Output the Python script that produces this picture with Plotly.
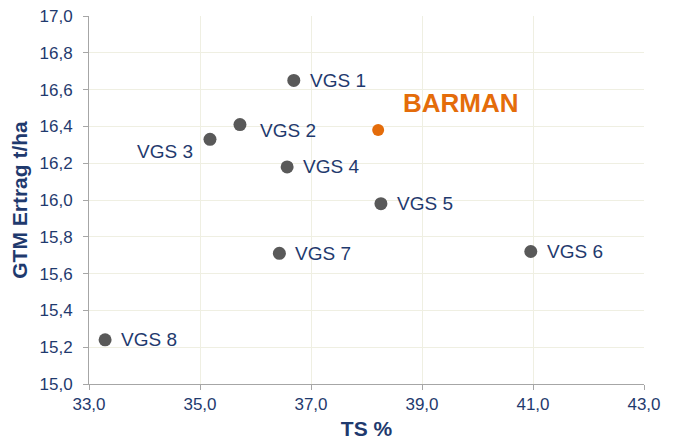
import plotly.graph_objects as go

names = ["VGS 1", "VGS 2", "VGS 3", "VGS 4", "VGS 5", "VGS 6", "VGS 7", "VGS 8"]
ts = [36.69, 35.72, 35.18, 36.57, 38.26, 40.96, 36.43, 33.29]
yield_t = [16.65, 16.41, 16.33, 16.18, 15.98, 15.72, 15.71, 15.24]

barman_name = "BARMAN"
barman_ts = [38.21]
barman_yield = [16.38]

x_ticks = [33, 35, 37, 39, 41, 43]
y_ticks = [15.0, 15.2, 15.4, 15.6, 15.8, 16.0, 16.2, 16.4, 16.6, 16.8, 17.0]

navy = "#1F3A6E"
font = "Liberation Sans, Arial, sans-serif"

fig = go.Figure()
fig.add_trace(go.Scatter(x=ts, y=yield_t, mode="markers",
                         marker=dict(size=13, color="#595959"),
                         hoverinfo="skip", showlegend=False))
fig.add_trace(go.Scatter(x=barman_ts, y=barman_yield, mode="markers",
                         marker=dict(size=12, color="#E46C0A"),
                         hoverinfo="skip", showlegend=False))

# label offsets (pixels)
offsets = {
    "VGS 1": (14, 0, "left"),
    "VGS 2": (18, -6, "left"),
    "VGS 3": (-15, -12, "right"),
    "VGS 4": (14, 0, "left"),
    "VGS 5": (14, 0, "left"),
    "VGS 6": (14, 0, "left"),
    "VGS 7": (14, 0, "left"),
    "VGS 8": (14, 0, "left"),
}
for n, xv, yv in zip(names, ts, yield_t):
    dx, dy, anc = offsets[n]
    fig.add_annotation(x=xv, y=yv, text=n, showarrow=False, xanchor=anc,
                       xshift=dx, yshift=dy,
                       font=dict(family=font, size=19, color=navy))
fig.add_annotation(x=barman_ts[0], y=barman_yield[0], text="<b>" + barman_name + "</b>",
                   showarrow=False, xanchor="left", xshift=23, yshift=27,
                   font=dict(family=font, size=26, color="#E46C0A"))

# page body has an 8px default margin, so the figure is sized to fit the window
fig.update_layout(
    width=665, height=434,
    margin=dict(l=81, r=29, t=8, b=58),
    paper_bgcolor="white", plot_bgcolor="white",
    separators=", ",
    font=dict(family=font, color=navy),
)
fig.update_xaxes(range=[33, 43], tickvals=x_ticks, tickformat=".1f",
                 automargin=False, ticklabeloverflow="allow",
                 showgrid=True, gridcolor="#EFEFE2", gridwidth=1,
                 showline=True, linecolor="#A6A6A6", linewidth=1,
                 ticks="outside", ticklen=5, tickcolor="#A6A6A6",
                 tickfont=dict(size=17, color=navy), zeroline=False,
                 title=dict(text="<b>TS %</b>", font=dict(size=21, color=navy), standoff=7))
fig.update_yaxes(range=[15, 17], tickvals=y_ticks, tickformat=".1f",
                 automargin=False, ticklabeloverflow="allow",
                 showgrid=True, gridcolor="#EFEFE2", gridwidth=1,
                 showline=True, linecolor="#A6A6A6", linewidth=1,
                 ticks="outside", ticklen=5, tickcolor="#A6A6A6",
                 ticklabelstandoff=7,
                 tickfont=dict(size=17, color=navy), zeroline=False,
                 title=dict(text="<b>GTM Ertrag t/ha</b>", font=dict(size=21, color=navy), standoff=8))

fig.write_html("out.html")
